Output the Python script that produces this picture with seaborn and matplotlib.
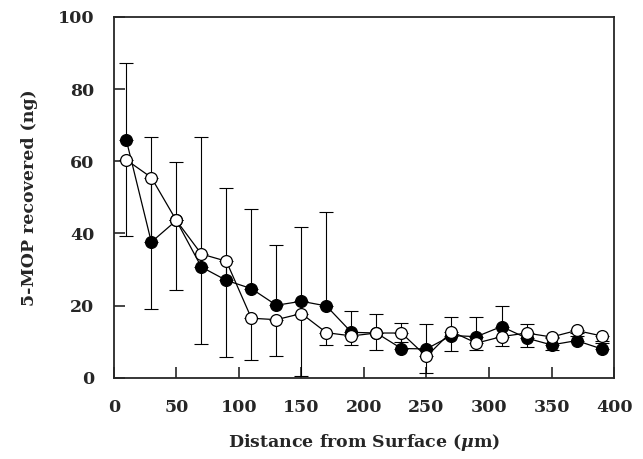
import numpy as np
import pandas as pd
import matplotlib
matplotlib.use("Agg")
import matplotlib.pyplot as plt
import seaborn as sns

# --- Data ---
distance = [10, 30, 50, 70, 90, 110, 130, 150, 170, 190,
            210, 230, 250, 270, 290, 310, 330, 350, 370, 390]
filled_mean = [65.9, 37.6, 43.6, 30.7, 27.0, 24.7, 20.1, 21.2, 19.9, 12.6,
               12.4, 8.1, 8.0, 11.7, 11.4, 14.2, 11.0, 9.1, 10.3, 8.0]
open_mean = [60.4, 55.5, 43.6, 34.3, 32.3, 16.5, 16.1, 17.8, 12.5, 11.6,
             12.4, 12.4, 5.9, 12.8, 9.6, 11.4, 12.4, 11.3, 13.1, 11.6]
# filled series shows upper error bars, open series shows lower ones
filled_err_up = [21.3, 29.2, 16.3, 36.1, 25.5, 22.2, 16.7, 20.7, 26.0, 5.9,
                 5.4, 7.0, 7.0, 5.1, 5.5, 5.6, 4.0, 2.0, 2.0, 1.5]
open_err_down = [21.1, 36.4, 19.2, 25.0, 26.6, 11.6, 10.2, 17.2, 3.5, 2.4,
                 4.6, 2.5, 4.6, 5.3, 2.0, 2.7, 4.0, 3.7, 1.5, 1.5]

x_ticks = [0, 50, 100, 150, 200, 250, 300, 350, 400]
y_ticks = [0, 20, 40, 60, 80, 100]

# --- Style ---
sns.set_style("ticks")
plt.rcParams["font.family"] = ["DejaVu Serif"]
plt.rcParams["font.weight"] = "bold"
plt.rcParams["axes.labelweight"] = "bold"
plt.rcParams["mathtext.fontset"] = "dejavuserif"

df = pd.DataFrame({
    "distance": distance * 2,
    "value": filled_mean + open_mean,
    "series": ["filled"] * len(distance) + ["open"] * len(distance),
})

fig, ax = plt.subplots(figsize=(6.43, 4.59), dpi=100)
fig.subplots_adjust(left=0.177, right=0.955, top=0.963, bottom=0.177)

zeros = np.zeros(len(distance))
ax.errorbar(distance, filled_mean, yerr=[zeros, filled_err_up], fmt="none",
            ecolor="black", elinewidth=0.8, capsize=5, capthick=0.8, zorder=1)
ax.errorbar(distance, open_mean, yerr=[open_err_down, zeros], fmt="none",
            ecolor="black", elinewidth=0.8, capsize=5, capthick=0.8, zorder=1)

sns.lineplot(data=df[df["series"] == "filled"], x="distance", y="value", ax=ax,
             color="black", linewidth=0.9, marker="o", markersize=8.5,
             markerfacecolor="black", markeredgecolor="black", markeredgewidth=0.9,
             zorder=3)
sns.lineplot(data=df[df["series"] == "open"], x="distance", y="value", ax=ax,
             color="black", linewidth=0.9, marker="o", markersize=8.5,
             markerfacecolor="white", markeredgecolor="black", markeredgewidth=0.9,
             zorder=4)

ax.set_xlim(0, 400)
ax.set_ylim(0, 100)
ax.set_xticks(x_ticks)
ax.set_yticks(y_ticks)
ax.tick_params(direction="in", length=8, width=1.2, labelsize=12.5, pad=14)
ax.tick_params(axis="x", pad=15)
for s in ax.spines.values():
    s.set_visible(True)
    s.set_linewidth(1.3)

ax.set_xlabel(r"Distance from Surface ($\mathit{\mu}$m)", fontsize=12.5, labelpad=12)
ax.set_ylabel("5-MOP recovered (ng)", fontsize=12.5, labelpad=14)

fig.savefig("out.png", dpi=100)
